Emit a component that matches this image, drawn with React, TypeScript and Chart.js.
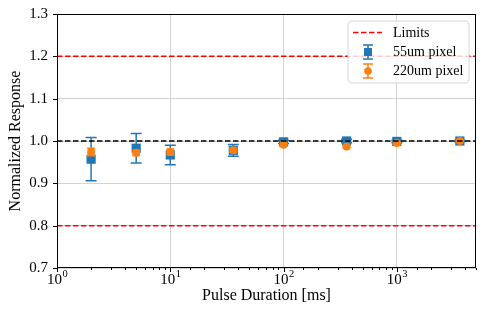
import React, { useEffect, useRef } from 'react';
import { Chart, registerables } from 'chart.js';
Chart.register(...registerables);

const pulseDurations = [2, 5, 10, 36, 100, 360, 1000, 3600];
const response55 = [0.957, 0.983, 0.967, 0.978, 0.998, 1.0, 0.999, 1.0];
const error55 = [0.051, 0.035, 0.023, 0.014, 0.004, 0.004, 0.003, 0.002];
const response220 = [0.974, 0.972, 0.974, 0.978, 0.991, 0.987, 0.995, 1.0];
const error220 = [0.009, 0.006, 0.007, 0.005, 0.003, 0.003, 0.002, 0.001];
const limitValues = [0.8, 1.2];
const nominalValue = 1.0;
const xRange = [1, 5000];
const yRange = [0.7, 1.3];
const xDecades = [1, 10, 100, 1000];
const xDecadeExponents = ['0', '1', '2', '3'];
const legendLabels = ['Limits', '55um pixel', '220um pixel'];

const BLUE = '#1f77b4';
const ORANGE = '#ff7f0e';
const FONT = '"Liberation Serif", "DejaVu Serif", serif';

const errorBarPlugin = {
  id: 'errorBars',
  beforeDatasetDraw(chart: any, args: any) {
    const ds = chart.data.datasets[args.index];
    if (!ds.errors) return;
    const { ctx } = chart;
    const x = chart.scales.x;
    const y = chart.scales.y;
    ctx.save();
    ctx.strokeStyle = ds.errColor;
    ctx.lineWidth = 1.5;
    const cap = ds.capHalf;
    ds.data.forEach((p: any, i: number) => {
      const px = x.getPixelForValue(p.x);
      const top = y.getPixelForValue(p.y + ds.errors[i]);
      const bot = y.getPixelForValue(p.y - ds.errors[i]);
      ctx.beginPath();
      ctx.moveTo(px, top);
      ctx.lineTo(px, bot);
      ctx.moveTo(px - cap, top);
      ctx.lineTo(px + cap, top);
      ctx.moveTo(px - cap, bot);
      ctx.lineTo(px + cap, bot);
      ctx.stroke();
    });
    ctx.restore();
  },
};

const framePlugin = {
  id: 'frame',
  afterDraw(chart: any) {
    const { ctx, chartArea: a } = chart;
    const x = chart.scales.x;
    const y = chart.scales.y;
    ctx.save();
    // frame
    ctx.strokeStyle = '#000';
    ctx.lineWidth = 1;
    ctx.strokeRect(Math.round(a.left) + 0.5, Math.round(a.top) + 0.5, Math.round(a.right - a.left) - 1, Math.round(a.bottom - a.top) - 1);
    // x ticks
    ctx.beginPath();
    x.ticks.forEach((t: any) => {
      const v = t.value;
      if (v < xRange[0] || v > xRange[1]) return;
      const major = xDecades.includes(v);
      const px = Math.round(x.getPixelForValue(v)) + 0.5;
      const len = major ? 4 : 2;
      ctx.moveTo(px, a.bottom);
      ctx.lineTo(px, a.bottom + len);
    });
    // y ticks
    y.ticks.forEach((t: any) => {
      const py = Math.round(y.getPixelForValue(t.value)) + 0.5;
      ctx.moveTo(a.left - 4, py);
      ctx.lineTo(a.left, py);
    });
    ctx.stroke();
    // x tick labels
    ctx.fillStyle = '#000';
    ctx.textBaseline = 'alphabetic';
    xDecades.forEach((v, i) => {
      const px = x.getPixelForValue(v);
      ctx.font = `15px ${FONT}`;
      const w1 = ctx.measureText('10').width;
      ctx.font = `10.5px ${FONT}`;
      const w2 = ctx.measureText(xDecadeExponents[i]).width;
      const start = px - (w1 + w2) / 2;
      ctx.font = `15px ${FONT}`;
      ctx.textAlign = 'left';
      ctx.fillText('10', start, a.bottom + 16);
      ctx.font = `10.5px ${FONT}`;
      ctx.fillText(xDecadeExponents[i], start + w1 + 0.5, a.bottom + 9);
    });
    // axis titles
    ctx.font = `16px ${FONT}`;
    ctx.textAlign = 'center';
    ctx.textBaseline = 'middle';
    ctx.fillText('Pulse Duration [ms]', (a.left + a.right) / 2, 296);
    ctx.save();
    ctx.translate(16, (a.top + a.bottom) / 2);
    ctx.rotate(-Math.PI / 2);
    ctx.fillText('Normalized Response', 0, 0);
    ctx.restore();

    // legend
    const lx = 348, ly = 21, lw = 121, lh = 62, r = 4;
    ctx.beginPath();
    ctx.moveTo(lx + r, ly);
    ctx.arcTo(lx + lw, ly, lx + lw, ly + lh, r);
    ctx.arcTo(lx + lw, ly + lh, lx, ly + lh, r);
    ctx.arcTo(lx, ly + lh, lx, ly, r);
    ctx.arcTo(lx, ly, lx + lw, ly, r);
    ctx.closePath();
    ctx.fillStyle = 'rgba(255,255,255,0.8)';
    ctx.fill();
    ctx.strokeStyle = '#d6d6d6';
    ctx.lineWidth = 1;
    ctx.stroke();

    // Limits entry
    ctx.strokeStyle = '#ff0000';
    ctx.lineWidth = 1.5;
    ctx.setLineDash([5.5, 2.5]);
    ctx.beginPath();
    ctx.moveTo(353, 32.5);
    ctx.lineTo(382, 32.5);
    ctx.stroke();
    ctx.setLineDash([]);

    const markerX = 368;
    // 55um entry
    const e1 = 52;
    ctx.strokeStyle = BLUE;
    ctx.beginPath();
    ctx.moveTo(markerX, e1 - 7); ctx.lineTo(markerX, e1 + 7);
    ctx.moveTo(markerX - 5, e1 - 7); ctx.lineTo(markerX + 5, e1 - 7);
    ctx.moveTo(markerX - 5, e1 + 7); ctx.lineTo(markerX + 5, e1 + 7);
    ctx.stroke();
    ctx.fillStyle = BLUE;
    ctx.fillRect(markerX - 4, e1 - 4, 8, 8);
    // 220um entry
    const e2 = 71;
    ctx.strokeStyle = ORANGE;
    ctx.beginPath();
    ctx.moveTo(markerX, e2 - 7); ctx.lineTo(markerX, e2 + 7);
    ctx.moveTo(markerX - 5, e2 - 7); ctx.lineTo(markerX + 5, e2 - 7);
    ctx.moveTo(markerX - 5, e2 + 7); ctx.lineTo(markerX + 5, e2 + 7);
    ctx.stroke();
    ctx.fillStyle = ORANGE;
    ctx.beginPath();
    ctx.arc(markerX, e2, 3.8, 0, Math.PI * 2);
    ctx.fill();

    ctx.fillStyle = '#000';
    ctx.font = `14px ${FONT}`;
    ctx.textAlign = 'left';
    ctx.textBaseline = 'middle';
    ctx.fillText(legendLabels[0], 393, 33);
    ctx.fillText(legendLabels[1], 393, 52);
    ctx.fillText(legendLabels[2], 393, 71);
    ctx.restore();
  },
};

export default function App() {
  const ref = useRef<HTMLCanvasElement>(null);
  useEffect(() => {
    if (!ref.current) return;
    const hline = (v: number) => [
      { x: xRange[0], y: v },
      { x: xRange[1], y: v },
    ];
    const chart = new Chart(ref.current, {
      type: 'scatter',
      data: {
        datasets: [
          ...limitValues.map((v) => ({
            type: 'line' as const,
            data: hline(v),
            borderColor: '#ff0000',
            borderWidth: 1.5,
            borderDash: [5.5, 2.5],
            pointRadius: 0,
            fill: false,
            order: 0,
          })),
          {
            type: 'line' as const,
            data: hline(nominalValue),
            borderColor: '#000000',
            borderWidth: 1.5,
            borderDash: [5.5, 2.5],
            pointRadius: 0,
            fill: false,
            order: 0,
          },
          {
            label: legendLabels[1],
            data: pulseDurations.map((x, i) => ({ x, y: response55[i] })),
            backgroundColor: BLUE,
            borderColor: BLUE,
            borderWidth: 0,
            pointStyle: 'rect',
            pointRadius: 6.5,
            errors: error55,
            errColor: BLUE,
            capHalf: 5.5,
            order: 2,
          } as any,
          {
            label: legendLabels[2],
            data: pulseDurations.map((x, i) => ({ x, y: response220[i] })),
            backgroundColor: ORANGE,
            borderColor: ORANGE,
            borderWidth: 0,
            pointStyle: 'circle',
            pointRadius: 4,
            errors: error220,
            errColor: ORANGE,
            capHalf: 4,
            order: 1,
          } as any,
        ],
      },
      options: {
        responsive: false,
        animation: false,
        layout: { padding: { top: 14, right: 8, left: 0, bottom: 0 } },
        plugins: { legend: { display: false }, tooltip: { enabled: false } },
        scales: {
          x: {
            type: 'logarithmic',
            min: xRange[0],
            max: xRange[1],
            border: { display: false },
            grid: {
              drawTicks: false,
              color: (c: any) => (c.tick && xDecades.includes(c.tick.value) ? '#d3d3d3' : 'rgba(0,0,0,0)'),
              lineWidth: 1,
            },
            ticks: { display: false, autoSkip: false },
            afterFit: (s: any) => {
              s.height = 54;
              s.paddingLeft = 0;
              s.paddingRight = 0;
            },
          },
          y: {
            min: yRange[0],
            max: yRange[1],
            border: { display: false },
            grid: { drawTicks: false, color: '#d3d3d3', lineWidth: 1 },
            ticks: {
              stepSize: 0.1,
              padding: 9,
              color: '#000',
              font: { family: FONT, size: 15 },
              callback: (v: any) => Number(v).toFixed(1),
            },
            afterFit: (s: any) => {
              s.width = 57;
              s.paddingTop = 0;
              s.paddingBottom = 0;
            },
          },
        },
      },
      plugins: [errorBarPlugin, framePlugin],
    } as any);
    return () => chart.destroy();
  }, []);
  return (
    <div style={{ position: 'fixed', left: 0, top: 0, width: 484, height: 322, background: '#fff' }}>
      <canvas ref={ref} width={484} height={322} />
    </div>
  );
}
